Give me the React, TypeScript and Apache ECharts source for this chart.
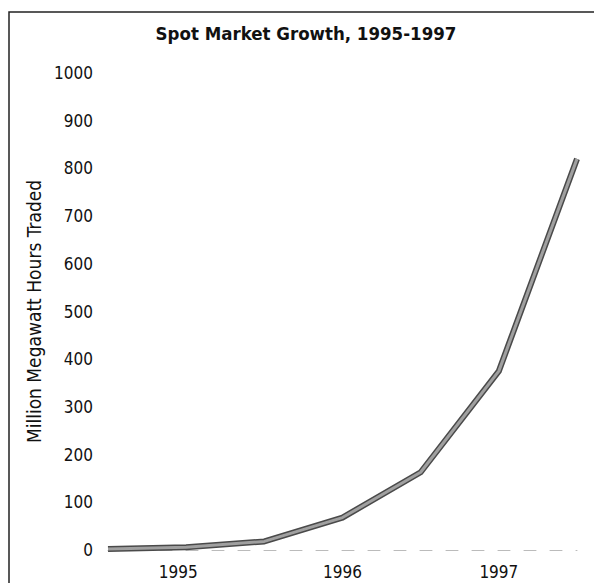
import React, { useEffect, useRef } from "react";
import * as echarts from "echarts";

const periods = ["1994H2", "1995H1", "1995H2", "1996H1", "1996H2", "1997H1", "1997H2"];
const periodLabels = ["", "1995", "", "1996", "", "1997", ""];
const volumes = [2, 6, 18, 68, 163, 375, 820];
const yMin = 0;
const yMax = 1000;
const yStep = 100;
const titleText = "Spot Market Growth, 1995-1997";
const yAxisTitle = "Million Megawatt Hours Traded";

const FONT = "'Liberation Sans Narrow', 'DejaVu Sans Condensed', 'Roboto', sans-serif";

export default function App() {
  const ref = useRef<HTMLDivElement>(null);
  useEffect(() => {
    if (!ref.current) return;
    const chart = echarts.init(ref.current, undefined, { renderer: "svg" });
    chart.setOption({
      animation: false,
      backgroundColor: "#ffffff",
      title: {
        text: titleText,
        left: 301,
        textAlign: "center",
        top: 19,
        textStyle: { fontFamily: FONT, fontWeight: "bold", fontSize: 18.5, color: "#111" },
      },
      graphic: [
        {
          type: "rect",
          shape: { x: 9, y: 12, width: 700, height: 700 },
          style: { fill: "none", stroke: "#222", lineWidth: 1.5 },
          silent: true,
        },
      ],
      grid: { left: 108, right: 17, top: 73, bottom: 33, containLabel: false },
      xAxis: {
        type: "category",
        data: periods,
        boundaryGap: false,
        axisLine: { show: true, lineStyle: { color: "#bbb", width: 1, type: [12, 14] } },
        axisTick: { show: false },
        axisLabel: {
          interval: 0,
          formatter: (_v: string, i: number) =>
            i === 1 ? "{first|" + periodLabels[i] + "}" : periodLabels[i],
          rich: {
            first: { fontFamily: FONT, fontSize: 17, color: "#111", padding: [0, 16, 0, 0] },
          },
          fontFamily: FONT,
          fontSize: 17,
          color: "#111",
          margin: 13,
        },
        splitLine: { show: false },
      },
      yAxis: {
        type: "value",
        min: yMin,
        max: yMax,
        interval: yStep,
        name: yAxisTitle,
        nameLocation: "middle",
        nameGap: 55,
        nameRotate: 90,
        nameTextStyle: { fontFamily: FONT, fontSize: 19, color: "#111" },
        axisLine: { show: false },
        axisTick: { show: false },
        splitLine: { show: false },
        axisLabel: {
          fontFamily: FONT,
          fontSize: 17,
          color: "#111",
          margin: 15,
          formatter: (v: number) => String(v),
        },
      },
      series: [
        {
          type: "line",
          data: volumes,
          symbol: "none",
          lineStyle: { color: "#4a4a4a", width: 6, join: "round" },
          z: 2,
        },
        {
          type: "line",
          data: volumes,
          symbol: "none",
          lineStyle: { color: "#a0a0a0", width: 3, join: "round" },
          z: 3,
        },
      ],
    });
    return () => chart.dispose();
  }, []);
  return (
    <div
      ref={ref}
      style={{ position: "fixed", left: 0, top: 0, width: 594, height: 583 }}
    />
  );
}
